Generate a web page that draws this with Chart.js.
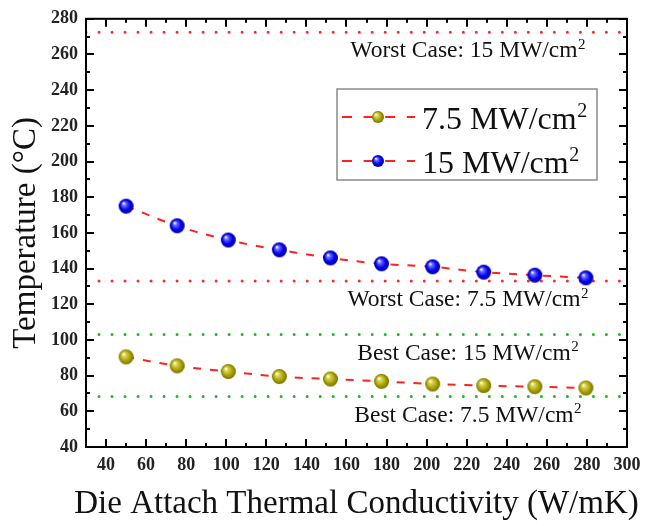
<!DOCTYPE html>
<html>
<head>
<meta charset="utf-8">
<script src="https://cdn.jsdelivr.net/npm/chart.js@4.4.0/dist/chart.umd.min.js"></script>
<style>
  html, body { margin: 0; padding: 0; background: #fff; }
  #wrap { width: 650px; height: 526px; }
</style>
</head>
<body>
<div id="wrap"><canvas id="chart" width="650" height="526"></canvas></div>
<script>
// data
const conductivity = [50, 75.5, 101, 126.5, 152, 177.5, 203, 228.5, 254, 279.5];
const temp75 = [90.5, 85.5, 82.3, 79.5, 78.1, 76.8, 75.3, 74.4, 73.8, 73.1];
const temp15 = [175, 164, 156, 150.5, 146, 142.7, 141, 138, 136.3, 134.8];
const seriesNames = ['7.5 MW/cm', '15 MW/cm'];

const caseNames = ['Worst Case: 15 MW/cm', 'Worst Case: 7.5 MW/cm', 'Best Case: 15 MW/cm', 'Best Case: 7.5 MW/cm'];
const caseValues = [272.4, 133, 103, 68.3];
const caseColors = ['#ff2a2a', '#ff2a2a', '#22b822', '#22b822'];

const xTicks = [40, 60, 80, 100, 120, 140, 160, 180, 200, 220, 240, 260, 280, 300];
const yTicks = [40, 60, 80, 100, 120, 140, 160, 180, 200, 220, 240, 260, 280];
const xTitle = 'Die Attach Thermal Conductivity (W/mK)';
const yTitle = 'Temperature (\u00B0C)';

const SERIF = "'Liberation Serif', 'Times New Roman', serif";

// shaded ball used as point marker
function makeBall(r, light, base, dark) {
  const c = document.createElement('canvas');
  c.width = c.height = Math.ceil(r * 2 + 2);
  const g = c.getContext('2d');
  const cx = c.width / 2, cy = c.height / 2;
  const grad = g.createRadialGradient(cx - r * 0.35, cy - r * 0.4, r * 0.05, cx, cy, r);
  grad.addColorStop(0, '#ffffff');
  grad.addColorStop(0.22, light);
  grad.addColorStop(0.65, base);
  grad.addColorStop(1, dark);
  g.fillStyle = grad;
  g.beginPath();
  g.arc(cx, cy, r, 0, Math.PI * 2);
  g.fill();
  return c;
}

const ballYellow = makeBall(7.5, '#dcd65a', '#aaa400', '#767000');
const ballBlue = makeBall(7.5, '#6a6aff', '#0000f0', '#00009a');
const legendBalls = [makeBall(6, '#dcd65a', '#aaa400', '#767000'), makeBall(6, '#6a6aff', '#0000f0', '#00009a')];

// text followed by a raised "2"
function textSup(ctx, text, sup, x, y, size, align) {
  ctx.font = size + 'px ' + SERIF;
  const w1 = ctx.measureText(text).width;
  ctx.font = Math.round(size * 0.62) + 'px ' + SERIF;
  const w2 = ctx.measureText(sup).width;
  let left = x;
  if (align === 'center') left = x - (w1 + w2) / 2;
  ctx.textAlign = 'left';
  ctx.textBaseline = 'alphabetic';
  ctx.font = size + 'px ' + SERIF;
  ctx.fillText(text, left, y);
  ctx.font = Math.round(size * 0.62) + 'px ' + SERIF;
  ctx.fillText(sup, left + w1 + 0.5, y - size * 0.36);
}

const seriesData = [temp75, temp15].map(arr => arr.map((t, i) => ({ x: conductivity[i], y: t })));

const datasets = [
  {
    label: seriesNames[0] + '\u00B2', data: seriesData[0],
    borderColor: '#ff2020', borderWidth: 2, borderDash: [8, 9], tension: 0.4,
    pointStyle: ballYellow, pointRadius: 7.5
  },
  {
    label: seriesNames[1] + '\u00B2', data: seriesData[1],
    borderColor: '#ff2020', borderWidth: 2, borderDash: [8, 9], tension: 0.4,
    pointStyle: ballBlue, pointRadius: 7.5
  }
];
caseValues.forEach((v, i) => {
  datasets.push({
    label: caseNames[i] + '\u00B2', data: [{ x: 30, y: v }, { x: 300, y: v }],
    borderColor: caseColors[i], borderWidth: 3, borderDash: [0.01, 13], borderCapStyle: 'round',
    pointRadius: 0
  });
});

const framePlugin = {
  id: 'frame',
  afterDatasetsDraw(chart) {
    const { ctx, chartArea: a, scales: { x, y } } = chart;
    ctx.save();
    // case labels under each dotted line
    ctx.fillStyle = '#111';
    caseValues.forEach((v, i) => {
      textSup(ctx, caseNames[i], '2', x.getPixelForValue(220.5), y.getPixelForValue(v) + 25, 23.5, 'center');
    });

    // x axis title (wider than the plot, so drawn here without squeezing)
    ctx.font = '33px ' + SERIF;
    ctx.textAlign = 'center';
    ctx.textBaseline = 'middle';
    ctx.fillText(xTitle, (a.left + a.right) / 2, 504);

    // legend box
    const bx = 337, by = 89, bw = 260, bh = 91;
    ctx.fillStyle = '#fff';
    ctx.fillRect(bx, by, bw, bh);
    ctx.strokeStyle = '#8a8a8a';
    ctx.lineWidth = 1.5;
    ctx.strokeRect(bx, by, bw, bh);
    const rows = [117, 161];
    rows.forEach((ry, i) => {
      ctx.strokeStyle = '#ff2020';
      ctx.lineWidth = 2;
      ctx.setLineDash([10, 11.6]);
      ctx.beginPath();
      ctx.moveTo(342, ry);
      ctx.lineTo(415, ry);
      ctx.stroke();
      ctx.setLineDash([]);
      const b = legendBalls[i];
      ctx.drawImage(b, 378 - b.width / 2, ry - b.height / 2);
      ctx.fillStyle = '#111';
      textSup(ctx, seriesNames[i], '2', 422, ry + 12, 32, 'left');
    });
    ctx.restore();
  },
  afterDraw(chart) {
    const { ctx, chartArea: a, scales: { x, y } } = chart;
    ctx.save();
    ctx.strokeStyle = '#000';
    ctx.lineWidth = 2;
    ctx.strokeRect(a.left, a.top, a.right - a.left, a.bottom - a.top);
    ctx.beginPath();
    for (let v = 30; v <= 300; v += 10) {
      const px = Math.round(x.getPixelForValue(v));
      const len = v % 20 === 0 ? 8 : 4;
      ctx.moveTo(px, a.bottom); ctx.lineTo(px, a.bottom - len);
      ctx.moveTo(px, a.top); ctx.lineTo(px, a.top + len);
    }
    for (let v = 40; v <= 280; v += 10) {
      const py = Math.round(y.getPixelForValue(v));
      const len = v % 20 === 0 ? 8 : 4;
      ctx.moveTo(a.left, py); ctx.lineTo(a.left + len, py);
      ctx.moveTo(a.right, py); ctx.lineTo(a.right - len, py);
    }
    ctx.stroke();
    ctx.restore();
  }
};

const tickFont = { family: SERIF, size: 18, weight: 'bold' };
const titleFont = { family: SERIF, size: 33, lineHeight: 1.2 };

new Chart(document.getElementById('chart'), {
  type: 'line',
  data: { datasets },
  options: {
    responsive: false,
    animation: false,
    layout: { padding: { top: 14, right: 23, left: 0, bottom: 0 } },
    plugins: { legend: { display: false }, tooltip: { enabled: false } },
    scales: {
      x: {
        type: 'linear', min: 30, max: 300,
        afterBuildTicks: s => { s.ticks = xTicks.map(v => ({ value: v })); },
        afterFit: s => { s.height = 79; },
        grid: { display: false, drawTicks: false },
        border: { display: false },
        ticks: { padding: 8, font: tickFont, color: '#222', maxRotation: 0, autoSkip: false },
        title: { display: false }
      },
      y: {
        type: 'linear', min: 40, max: 280,
        afterBuildTicks: s => { s.ticks = yTicks.map(v => ({ value: v })); },
        afterFit: s => { s.width = 86; },
        grid: { display: false, drawTicks: false },
        border: { display: false },
        ticks: { padding: 8, font: tickFont, color: '#222', autoSkip: false },
        title: { display: true, text: yTitle, font: titleFont, color: '#111', padding: { top: 7, bottom: 0 } }
      }
    }
  },
  plugins: [framePlugin]
});
</script>
</body>
</html>
